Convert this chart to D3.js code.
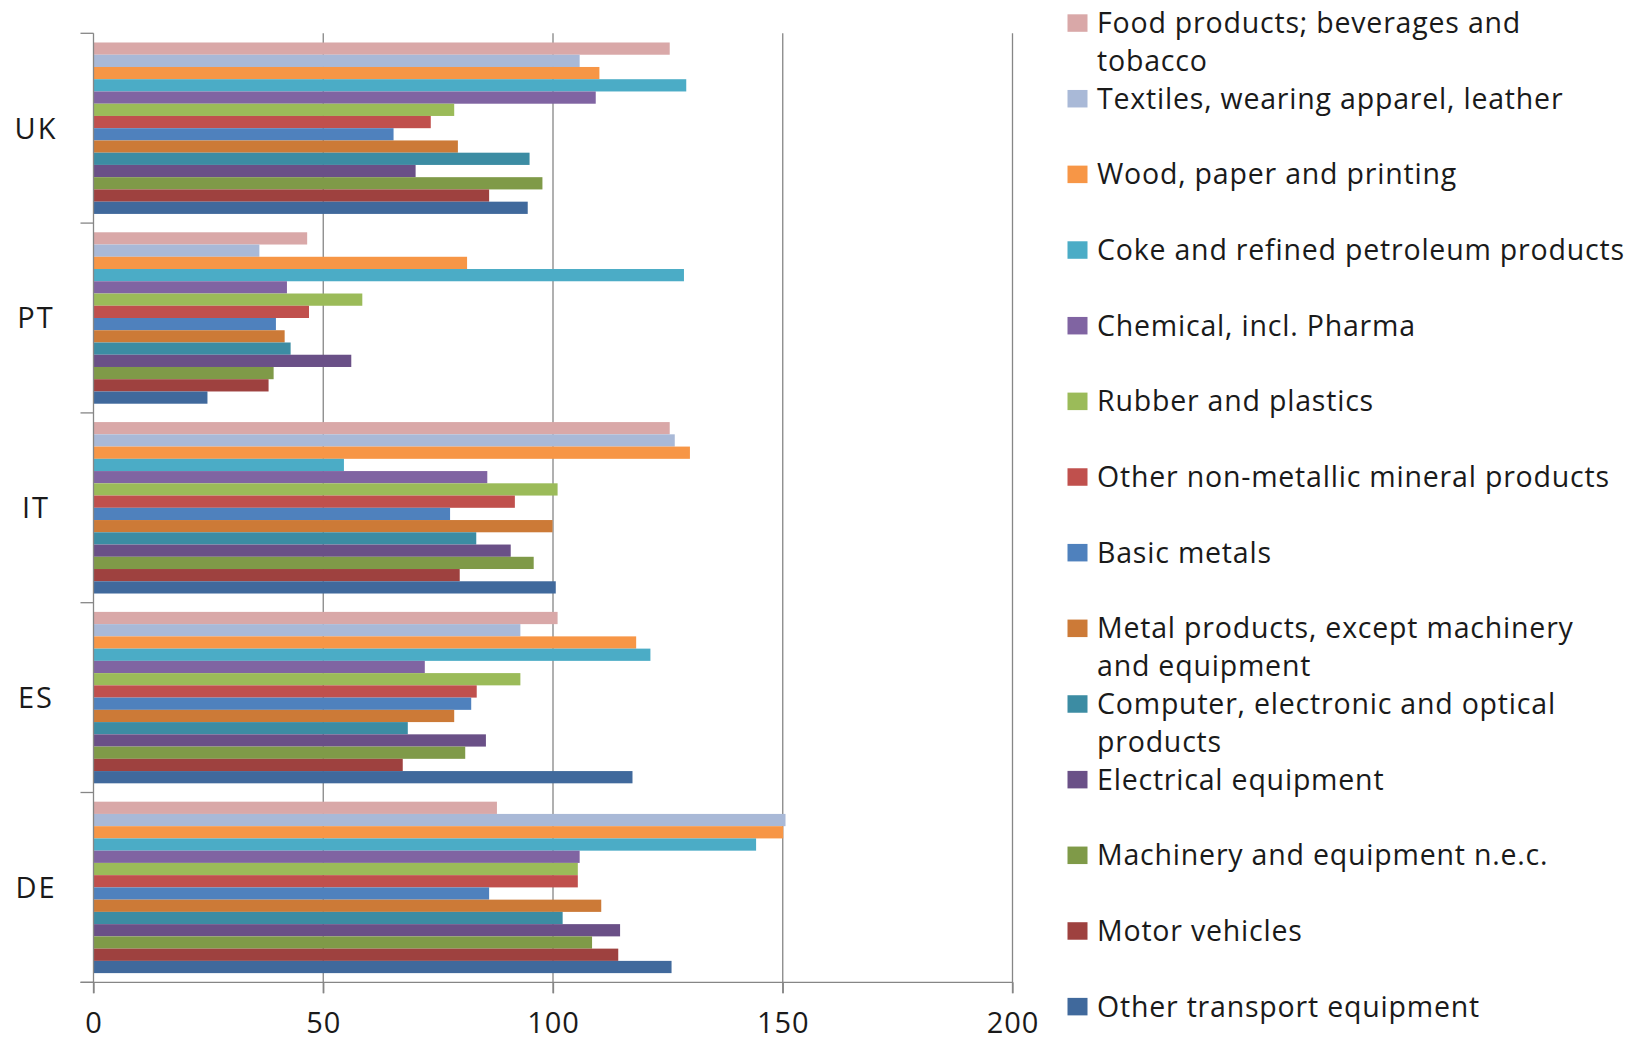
<!DOCTYPE html>
<html>
<head>
<meta charset="utf-8">
<script src="https://cdn.jsdelivr.net/npm/d3@7/dist/d3.min.js"></script>
<style>
  html, body { margin: 0; padding: 0; background: #ffffff; }
  svg { display: block; font-family: "Open Sans", "Noto Sans", sans-serif; }
</style>
</head>
<body>
<svg id="chart" width="1625" height="1042"></svg>
<script>
// Countries, top to bottom
const countries = ["UK", "PT", "IT", "ES", "DE"];

// Industry series, in legend order (drawn top to bottom inside each country)
const industries = [
  "Food products; beverages and tobacco",
  "Textiles, wearing apparel, leather",
  "Wood, paper and printing",
  "Coke and refined petroleum products",
  "Chemical, incl. Pharma",
  "Rubber and plastics",
  "Other non-metallic mineral products",
  "Basic metals",
  "Metal products, except machinery and equipment",
  "Computer, electronic and optical products",
  "Electrical equipment",
  "Machinery and equipment n.e.c.",
  "Motor vehicles",
  "Other transport equipment"
];

// Legend text, wrapped as shown
const legendLines = [
  ["Food products; beverages and", "tobacco"],
  ["Textiles, wearing apparel, leather"],
  ["Wood, paper and printing"],
  ["Coke and refined petroleum products"],
  ["Chemical, incl. Pharma"],
  ["Rubber and plastics"],
  ["Other non-metallic mineral products"],
  ["Basic metals"],
  ["Metal products, except machinery", "and equipment"],
  ["Computer, electronic and optical", "products"],
  ["Electrical equipment"],
  ["Machinery and equipment n.e.c."],
  ["Motor vehicles"],
  ["Other transport equipment"]
];

const colors = [
  "#d9a8a8", "#a9b9d7", "#f79646", "#4bacc6", "#8064a2", "#9bbb59", "#c0504d",
  "#4f81bd", "#cc7a37", "#3c8ca3", "#6a5087", "#7f9a48", "#9e413f", "#40699c"
];

// Values per country, one per industry (same order as industries)
const valuesUK = [125.4, 105.8, 110.1, 129.0, 109.3, 78.5, 73.4, 65.3, 79.3, 94.9, 70.1, 97.7, 86.1, 94.5];
const valuesPT = [46.5, 36.1, 81.3, 128.5, 42.1, 58.5, 46.9, 39.7, 41.6, 42.9, 56.1, 39.2, 38.1, 24.8];
const valuesIT = [125.4, 126.5, 129.8, 54.5, 85.7, 101.0, 91.7, 77.6, 99.9, 83.3, 90.8, 95.8, 79.7, 100.6];
const valuesES = [101.0, 92.9, 118.1, 121.2, 72.1, 92.9, 83.4, 82.2, 78.5, 68.4, 85.4, 80.9, 67.3, 117.3];
const valuesDE = [87.8, 150.6, 150.1, 144.2, 105.8, 105.4, 105.4, 86.1, 110.5, 102.1, 114.6, 108.5, 114.2, 125.8];

const valuesByCountry = { UK: valuesUK, PT: valuesPT, IT: valuesIT, ES: valuesES, DE: valuesDE };

// x-axis ticks
const xTicks = [0, 50, 100, 150, 200];

const svg = d3.select("#chart");

const plot = { left: 93.5, right: 1012.5, top: 33.3, bottom: 982.3 };

const x = d3.scaleLinear().domain([0, 200]).range([plot.left, plot.right]);
const y = d3.scaleBand().domain(countries).range([plot.top, plot.bottom]).padding(0);
const ySeries = d3.scaleBand().domain(d3.range(industries.length))
  .range([0, y.bandwidth()]).paddingInner(0).paddingOuter(0.75);

const gridColor = "#868686";
const textColor = "#1a1a1a";

// vertical gridlines (with tick stubs below the axis)
svg.append("g").selectAll("line")
  .data(xTicks.slice(1))
  .join("line")
  .attr("x1", d => x(d)).attr("x2", d => x(d))
  .attr("y1", plot.top).attr("y2", plot.bottom + 11)
  .attr("stroke", gridColor).attr("stroke-width", 1.3);

// bars
const groups = svg.append("g").selectAll("g")
  .data(countries)
  .join("g")
  .attr("transform", c => `translate(0,${y(c)})`);

groups.selectAll("rect")
  .data(c => valuesByCountry[c].map((v, i) => ({ v, i })))
  .join("rect")
  .attr("x", x(0))
  .attr("y", d => ySeries(d.i))
  .attr("width", d => x(d.v) - x(0))
  .attr("height", ySeries.bandwidth())
  .attr("fill", d => colors[d.i]);

// x axis (bottom) with D3 axis generator
const xAxis = d3.axisBottom(x).tickValues(xTicks).tickSize(11).tickFormat(d3.format("d"));
const gx = svg.append("g").attr("transform", `translate(0,${plot.bottom})`).call(xAxis);
gx.select(".domain").attr("stroke", gridColor).attr("stroke-width", 1.3)
  .attr("d", `M${plot.left - 13},0H${plot.right}`);
gx.selectAll(".tick line").attr("stroke", gridColor).attr("stroke-width", 1.3);
gx.selectAll(".tick text")
  .attr("y", 50.7)
  .attr("dy", 0)
  .attr("fill", textColor)
  .style("font-family", "'Open Sans', sans-serif")
  .style("font-size", "29px")
  .style("letter-spacing", "1px");

// y axis: line and category boundary ticks
svg.append("line")
  .attr("x1", plot.left).attr("x2", plot.left)
  .attr("y1", plot.top).attr("y2", plot.bottom + 11)
  .attr("stroke", gridColor).attr("stroke-width", 1.3);

const boundaries = countries.map(c => y(c)).concat([plot.bottom]);
svg.append("g").selectAll("line")
  .data(boundaries)
  .join("line")
  .attr("x1", plot.left - 13).attr("x2", plot.left)
  .attr("y1", d => d).attr("y2", d => d)
  .attr("stroke", gridColor).attr("stroke-width", 1.3);

// category labels
svg.append("g").selectAll("text")
  .data(countries)
  .join("text")
  .attr("x", 36)
  .attr("y", c => y(c) + y.bandwidth() / 2 + 10.3)
  .attr("text-anchor", "middle")
  .attr("fill", textColor)
  .style("font-size", "29px")
  .style("letter-spacing", "2px")
  .text(c => c);

// legend
const legendTop = 22.8, legendStep = 75.66, lineStep = 38;
const legend = svg.append("g").selectAll("g")
  .data(industries)
  .join("g")
  .attr("transform", (d, i) => `translate(0,${legendTop + i * legendStep})`);

legend.append("rect")
  .attr("x", 1067.5).attr("y", -8.5)
  .attr("width", 20).attr("height", 17.5)
  .attr("fill", (d, i) => colors[i]);

legend.each(function (d, i) {
  const g = d3.select(this);
  legendLines[i].forEach((line, k) => {
    g.append("text")
      .attr("x", 1097)
      .attr("y", 10.3 + k * lineStep)
      .attr("fill", textColor)
      .style("font-size", "28.5px")
      .style("letter-spacing", "0.8px")
      .text(line);
  });
});
</script>
</body>
</html>
